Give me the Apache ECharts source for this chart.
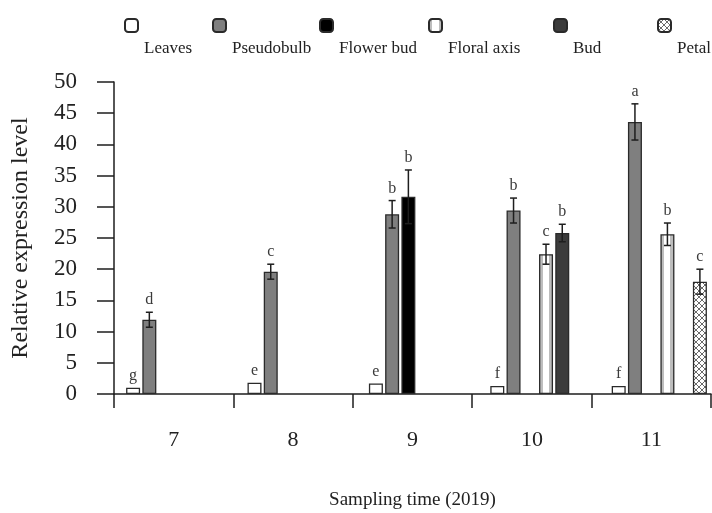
<!DOCTYPE html>
<html>
<head>
<meta charset="utf-8">
<script src="https://cdn.jsdelivr.net/npm/echarts@6/dist/echarts.min.js"></script>
<style>html,body{margin:0;padding:0;background:#fff;}#chart{width:712px;height:513px;}</style>
</head>
<body>
<div id="chart"></div>
<script>
// ---- data ----
var categories = ['7', '8', '9', '10', '11'];
var seriesNames = ['Leaves', 'Pseudobulb', 'Flower bud', 'Floral axis', 'Bud', 'Petal'];
var leaves      = [1.0, 1.8, 1.7, 1.3, 1.3];
var pseudobulb  = [11.9, 19.6, 28.8, 29.4, 43.6];
var flowerBud   = [null, null, 31.6, null, null];
var floralAxis  = [null, null, null, 22.4, 25.6];
var bud         = [null, null, null, 25.8, null];
var petal       = [null, null, null, null, 18.0];

var leavesErr     = [0, 0, 0, 0, 0];
var pseudobulbErr = [1.2, 1.2, 2.2, 2.0, 2.9];
var flowerBudErr  = [0, 0, 4.3, 0, 0];
var floralAxisErr = [0, 0, 0, 1.6, 1.8];
var budErr        = [0, 0, 0, 1.4, 0];
var petalErr      = [0, 0, 0, 0, 2.0];

var leavesSig     = ['g', 'e', 'e', 'f', 'f'];
var pseudobulbSig = ['d', 'c', 'b', 'b', 'a'];
var flowerBudSig  = ['', '', 'b', '', ''];
var floralAxisSig = ['', '', '', 'c', 'b'];
var budSig        = ['', '', '', 'b', ''];
var petalSig      = ['', '', '', '', 'c'];

var yTicks = [0, 5, 10, 15, 20, 25, 30, 35, 40, 45, 50];

// ---- styling helpers ----
var values = [leaves, pseudobulb, flowerBud, floralAxis, bud, petal];
var errs = [leavesErr, pseudobulbErr, flowerBudErr, floralAxisErr, budErr, petalErr];
var sigs = [leavesSig, pseudobulbSig, flowerBudSig, floralAxisSig, budSig, petalSig];

var hatch = document.createElement('canvas');
hatch.width = 6; hatch.height = 6;
(function () {
  var c = hatch.getContext('2d');
  c.fillStyle = '#ffffff'; c.fillRect(0, 0, 6, 6);
  c.strokeStyle = '#6a6a6a'; c.lineWidth = 1;
  c.beginPath();
  c.moveTo(0, 0); c.lineTo(6, 6);
  c.moveTo(6, 0); c.lineTo(0, 6);
  c.stroke();
})();

var stripe = {
  type: 'linear', x: 0, y: 0, x2: 1, y2: 0,
  colorStops: [
    {offset: 0, color: '#bdbdbd'}, {offset: 0.28, color: '#bdbdbd'},
    {offset: 0.28, color: '#ffffff'}, {offset: 0.72, color: '#ffffff'},
    {offset: 0.72, color: '#bdbdbd'}, {offset: 1, color: '#bdbdbd'}
  ]
};
var fills = ['#ffffff', '#7f7f7f', '#000000', stripe, '#3c3c3c', {image: hatch, repeat: 'repeat'}];

var BAR_W = 14, GAP_PCT = 0.16;
var SLOT = BAR_W * (1 + GAP_PCT);
var FONT = 'Liberation Serif, Times New Roman, serif';

var series = [];
seriesNames.forEach(function (n, i) {
  series.push({
    name: n, type: 'bar', xAxisIndex: 1, yAxisIndex: 1,
    data: values[i], barWidth: BAR_W, barGap: (GAP_PCT * 100) + '%',
    itemStyle: {color: fills[i], borderColor: '#2a2a2a', borderWidth: 1.3},
    emphasis: {disabled: true}, animation: false
  });
});

var errData = [];
for (var s = 0; s < 6; s++) {
  for (var c = 0; c < categories.length; c++) {
    if (values[s][c] != null) errData.push([c, s, values[s][c], errs[s][c], sigs[s][c]]);
  }
}
series.push({
  type: 'custom', xAxisIndex: 1, yAxisIndex: 1, data: errData, z: 10, animation: false,
  renderItem: function (params, api) {
    var ci = api.value(0), si = api.value(1), v = api.value(2), e = api.value(3);
    var letter = errData[params.dataIndex][4];
    var center = api.coord([ci, v]);
    var x = center[0] + (si - 2.5) * SLOT;
    var yTop = api.coord([ci, v + e])[1];
    var yBot = api.coord([ci, v - e])[1];
    var st = {stroke: '#1e1e1e', lineWidth: 1.5};
    var kids = [];
    if (e > 0) {
      kids.push({type: 'line', shape: {x1: x, y1: yTop, x2: x, y2: yBot}, style: st});
      kids.push({type: 'line', shape: {x1: x - 3.5, y1: yTop, x2: x + 3.5, y2: yTop}, style: st});
      kids.push({type: 'line', shape: {x1: x - 3.5, y1: yBot, x2: x + 3.5, y2: yBot}, style: st});
    }
    if (letter) {
      kids.push({type: 'text', style: {text: letter, x: x, y: yTop - 4, align: 'center', verticalAlign: 'bottom',
        font: '16px ' + FONT, fill: '#3a3a3a'}});
    }
    return {type: 'group', children: kids};
  }
});

var legends = [];
var legendLeft = [124, 212, 319, 428, 553, 657];
seriesNames.forEach(function (n, i) {
  legends.push({
    data: [n], left: legendLeft[i], top: -9, orient: 'horizontal',
    itemWidth: 13, itemHeight: 13, selectedMode: false, padding: 0,
    formatter: '\n\n{name}',
    textStyle: {fontFamily: FONT, fontSize: 17, lineHeight: 23, color: '#222', padding: [0, 0, 0, 1]}
  });
});

var option = {
  backgroundColor: '#ffffff',
  animation: false,
  legend: legends,
  grid: [
    {left: 114, width: 597, top: 82, bottom: 119, containLabel: false, outerBoundsMode: 'none'},
    {left: 113, width: 607, top: 82, bottom: 119, containLabel: false, outerBoundsMode: 'none'}
  ],
  xAxis: [
    {
      type: 'category', gridIndex: 0, data: categories, boundaryGap: true,
      axisLine: {lineStyle: {color: '#1e1e1e', width: 1.5}},
      axisTick: {show: true, length: 14, lineStyle: {color: '#1e1e1e', width: 1.5}, alignWithLabel: false},
      axisLabel: {margin: 35, fontFamily: FONT, fontSize: 22, color: '#222'},
      name: 'Sampling time (2019)', nameLocation: 'middle', nameGap: 97,
      nameTextStyle: {fontFamily: FONT, fontSize: 19, color: '#222'}
    },
    {type: 'category', gridIndex: 1, data: categories, show: false}
  ],
  yAxis: [
    {
      type: 'value', gridIndex: 0, min: 0, max: 50, interval: 5,
      axisLine: {show: true, lineStyle: {color: '#1e1e1e', width: 1.5}},
      axisTick: {show: true, length: 17, lineStyle: {color: '#1e1e1e', width: 1.5}},
      axisLabel: {margin: 37, fontFamily: FONT, fontSize: 23, color: '#222',
        customValues: yTicks},
      splitLine: {show: false},
      name: 'Relative expression level', nameLocation: 'middle', nameGap: 81,
      nameTextStyle: {fontFamily: FONT, fontSize: 24, color: '#222'}
    },
    {type: 'value', gridIndex: 1, min: 0, max: 50, show: false}
  ],
  series: series
};

var chart = echarts.init(document.getElementById('chart'), null, {renderer: 'canvas'});
chart.setOption(option);
</script>
</body>
</html>
